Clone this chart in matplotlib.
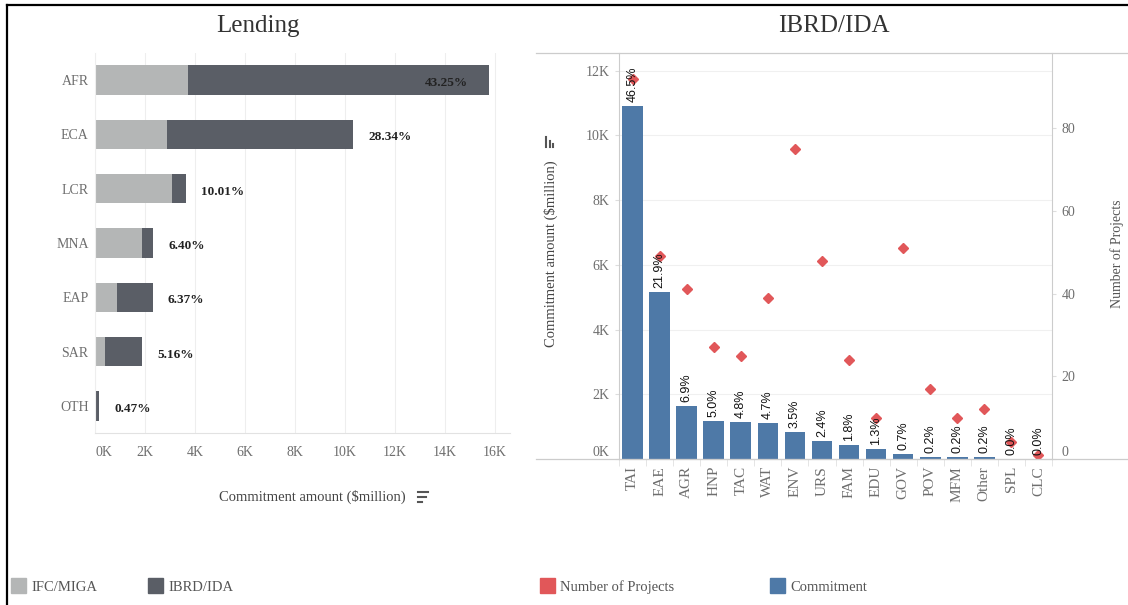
import numpy as np
import matplotlib.pyplot as plt
from matplotlib.lines import Line2D
from matplotlib.patches import Patch

plt.rcParams['font.family'] = ['Liberation Serif', 'DejaVu Serif']

# Lending by region ($million)
regions = ["AFR", "ECA", "LCR", "MNA", "EAP", "SAR", "OTH"]
ifc_miga = [3730, 2880, 3080, 1880, 880, 400, 0]
ibrd_ida = [12030, 7450, 540, 450, 1440, 1480, 170]
region_pct = ["43.25%", "28.34%", "10.01%", "6.40%", "6.37%", "5.16%", "0.47%"]

# IBRD/IDA by sector
sectors = ["TAI", "EAE", "AGR", "HNP", "TAC", "WAT", "ENV", "URS", "FAM", "EDU",
           "GOV", "POV", "MFM", "Other", "SPL", "CLC"]
commitment = [10910, 5150, 1650, 1170, 1130, 1100, 830, 560, 430, 300,
              170, 50, 50, 50, 8, 5]
sector_pct = ["46.5%", "21.9%", "6.9%", "5.0%", "4.8%", "4.7%", "3.5%", "2.4%",
              "1.8%", "1.3%", "0.7%", "0.2%", "0.2%", "0.2%", "0.0%", "0.0%"]
num_projects = [92, 49, 41, 27, 25, 39, 75, 48, 24, 10, 51, 17, 10, 12, 4, 1]

light = "#b4b6b6"
dark = "#5a5e66"
blue = "#4e79a7"
red = "#e15759"
tick_col = "#6e6e6e"
grid_col = "#eeeeee"

W, H = 1128, 605
fig = plt.figure(figsize=(W / 100, H / 100), dpi=100)


def fx(px):
    return px / W


def fy(py):
    return 1 - py / H


def sort_icon(lines):
    for (x0, y0, x1, y1) in lines:
        fig.add_artist(Line2D([fx(x0), fx(x1)], [fy(y0), fy(y1)], color="#555555", lw=1.5))


# ---------- left: Lending ----------
ax1 = fig.add_axes([fx(95), fy(433), fx(415), 380 / H])
y = np.arange(len(regions))
ax1.barh(y, ifc_miga, height=0.54, color=light, zorder=2)
ax1.barh(y, ibrd_ida, left=ifc_miga, height=0.54, color=dark, zorder=2)
ax1.set_ylim(len(regions) - 0.5, -0.5)
ax1.set_xlim(0, 16600)
ax1.set_yticks(y)
ax1.set_yticklabels(regions)
xt = np.arange(0, 16001, 2000)
ax1.set_xticks(xt)
ax1.set_xticklabels([f"{v // 1000}K" for v in xt])
ax1.get_xticklabels()[0].set_ha("left")
ax1.tick_params(axis="y", length=0, pad=4.5, labelsize=10, labelcolor=tick_col)
ax1.tick_params(axis="x", length=0, pad=9, labelsize=10, labelcolor=tick_col)
ax1.grid(axis="x", color=grid_col, lw=0.8, zorder=0)
for s in ["top", "right"]:
    ax1.spines[s].set_visible(False)
ax1.spines["left"].set_color(grid_col)
ax1.spines["bottom"].set_color("#e2e2e2")

totals = np.array(ifc_miga) + np.array(ibrd_ida)
for i, (t, lab) in enumerate(zip(totals, region_pct)):
    if i == 0:
        ax1.annotate(lab, (t, i), xytext=(-21, -3), textcoords="offset pixels",
                     ha="right", va="center", fontsize=9.5, fontweight="bold", color="#222222")
    else:
        ax1.annotate(lab, (t, i), xytext=(15, -3), textcoords="offset pixels",
                     ha="left", va="center", fontsize=9.5, fontweight="bold", color="#222222")

fig.text(fx(258), fy(26), "Lending", ha="center", va="center", fontsize=18, color="#333333")
fig.text(fx(312), fy(497), "Commitment amount ($million)", ha="center", va="center",
         fontsize=10.5, color="#444444")
sort_icon([(418, 491.5, 428, 491.5), (418, 496.5, 426, 496.5), (418, 501.5, 422, 501.5)])

# ---------- right: IBRD/IDA ----------
ax = fig.add_axes([fx(619), fy(459), fx(433), 406 / H])
x = np.arange(len(sectors))
ax.bar(x, commitment, width=0.76, color=blue, zorder=2)
ax.set_xlim(-0.5, len(sectors) - 0.5)
ax.set_ylim(0, 12550)
yt = np.arange(0, 12001, 2000)
ax.set_yticks(yt)
ax.set_yticklabels([f"{v // 1000}K" for v in yt])
ax.get_yticklabels()[0].set_va("bottom")
ax.set_xticks(x)
ax.set_xticklabels(sectors, rotation=90)
ax.set_xticks(np.arange(-0.5, len(sectors), 1), minor=True)
ax.tick_params(axis="x", which="major", length=0, pad=5, labelsize=11, labelcolor=tick_col)
ax.tick_params(axis="x", which="minor", length=5, color="#e0e0e0")
ax.tick_params(axis="y", length=3, color="#dddddd", pad=4, labelsize=10, labelcolor=tick_col)
ax.grid(axis="y", color="#f0f0f0", lw=0.8, zorder=0)
ax.spines["top"].set_visible(False)
ax.spines["right"].set_visible(False)
ax.spines["left"].set_color("#cccccc")
ax.spines["bottom"].set_color("#cccccc")

ax2 = ax.twinx()
ax2.plot(x, num_projects, linestyle="none", marker="D", markersize=5.5, color=red, zorder=2)
ax2.set_ylim(0, 98.2)
ax2.set_yticks([0, 20, 40, 60, 80])
ax2.get_yticklabels()[0].set_va("bottom")
ax2.tick_params(axis="y", length=3, color="#dddddd", pad=4, labelsize=10, labelcolor=tick_col)
for s in ["top", "left", "bottom"]:
    ax2.spines[s].set_visible(False)
ax2.spines["right"].set_color("#cccccc")

for i, (v, lab) in enumerate(zip(commitment, sector_pct)):
    ax2.annotate(lab, (i, v), xycoords=ax.transData, xytext=(0, 4), textcoords="offset pixels",
                 rotation=90, ha="center", va="bottom", fontsize=9,
                 family=["Liberation Sans", "DejaVu Sans"], color="#111111", zorder=5)

fig.text(fx(834), fy(26), "IBRD/IDA", ha="center", va="center", fontsize=18, color="#333333")
fig.text(fx(551), fy(254), "Commitment amount ($million)", rotation=90, ha="center",
         va="center", fontsize=10.5, color="#444444")
sort_icon([(546, 147, 546, 137), (549.5, 147, 549.5, 141), (553, 147, 553, 144)])
fig.text(fx(1117), fy(254), "Number of Projects", rotation=90, ha="center", va="center",
         fontsize=10, color="#555555")

# panel border lines
for yy in [53, 459]:
    fig.add_artist(Line2D([fx(536), 1], [fy(yy), fy(yy)], color="#cccccc", lw=0.9))

# outer frame
fig.add_artist(Line2D([fx(7), fx(7)], [0, fy(5)], color="black", lw=1.6))
fig.add_artist(Line2D([fx(7), 1], [fy(5), fy(5)], color="black", lw=1.6))

# legends
legend_items = [("IFC/MIGA", light, 11), ("IBRD/IDA", dark, 148),
                ("Number of Projects", red, 540), ("Commitment", blue, 770)]
for lab, col, px in legend_items:
    fig.legend(handles=[Patch(color=col)], labels=[lab], loc="center left",
               bbox_to_anchor=(fx(px), fy(586)), frameon=False, borderpad=0,
               borderaxespad=0, handlelength=1.0, handleheight=1.2, handletextpad=0.4,
               fontsize=10.5, labelcolor="#555555")

fig.savefig("out.png", dpi=100)
